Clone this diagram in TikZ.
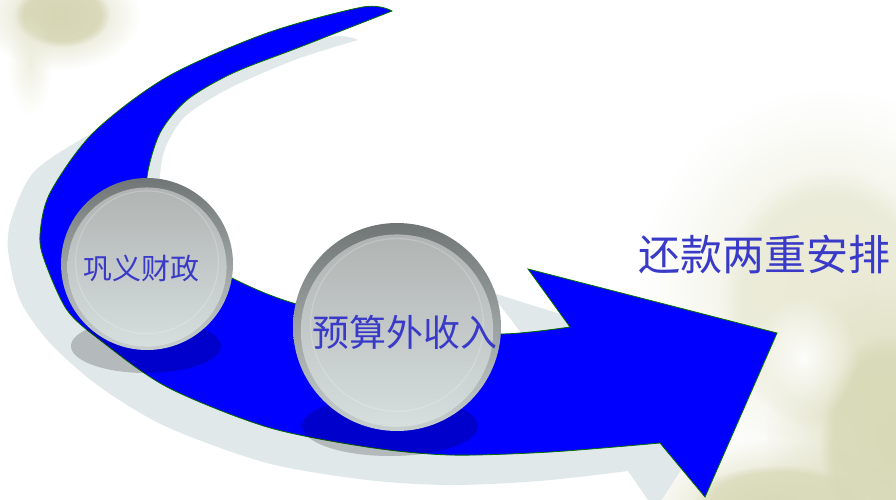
\documentclass[tikz,border=0pt]{standalone}
\usepackage{fontspec}
\newfontfamily\cjk{Noto Sans CJK SC}
\usetikzlibrary{fadings}
\definecolor{arrowblue}{RGB}{0,0,255}
\definecolor{arrowline}{RGB}{0,110,0}
\definecolor{shadowgrey}{RGB}{225,232,234}
\definecolor{txtblue}{RGB}{58,58,200}
\definecolor{beigeA}{RGB}{214,214,180}
\definecolor{beigeB}{RGB}{234,234,214}
\definecolor{beigeC}{RGB}{216,217,182}
\definecolor{rimtop}{RGB}{112,117,117}
\definecolor{rimbot}{RGB}{200,207,207}
\definecolor{disctop}{RGB}{176,180,179}
\definecolor{discbot}{RGB}{214,222,222}
\tikzfading[name=softblob, inner color=transparent!0, outer color=transparent!100]
\newcommand{\glassball}[3]{%
  \shade[top color=rimtop,bottom color=rimbot] (#1,#2) circle[radius=#3];
  \shade[top color=disctop,bottom color=discbot] (#1,#2+0.035*#3) circle[radius=0.925*#3];
  \draw[white,opacity=0.2,line width=1.2pt] (#1,#2-0.02*#3) circle[radius=0.83*#3];
}
\tikzset{
  blob/.style={fill=#1,path fading=softblob},
  coreblob/.style={fill=#1,path fading=circle with fuzzy edge 20 percent},
  balltext/.style={text=txtblue,inner sep=0pt},
}
\begin{document}
\begin{tikzpicture}[x=1pt,y=-1pt]
\useasboundingbox (0,0) rectangle (896,500);
\fill[white] (0,0) rectangle (896,500);
% background flowers
\fill[blob=beigeA] (60,15) ellipse (80 and 55);
\fill[coreblob=beigeA,opacity=0.8] (62,15) ellipse (48 and 32);
\fill[blob=beigeB,opacity=0.7] (30,65) ellipse (22 and 50);
\fill[blob=beigeB] (830,290) ellipse (190 and 200);
\fill[coreblob=beigeB,opacity=0.8] (830,300) ellipse (110 and 130);
\fill[blob=beigeC] (895,440) ellipse (130 and 170);
\fill[coreblob=beigeC,opacity=0.8] (885,445) ellipse (65 and 110);
\fill[blob=beigeC] (770,505) ellipse (130 and 65);
\fill[coreblob=beigeC,opacity=0.7] (780,500) ellipse (85 and 35);
\fill[blob=white,opacity=0.9] (803,358) ellipse (55 and 62);
% arrow shadow
\fill[shadowgrey]
  plot[smooth] coordinates {(358,40) (330,37) (250,62) (150,105) (80,140) (33,173) (12,217) (8,250) (20,300) (50,343) (100,387) (167,427) (267,463) (367,480) (450,485) (540,481) (628,471)}
  -- (655,510) -- (745,372) -- (490,292) -- (522,334)
  -- plot[smooth] coordinates {(522,334) (420,345) (300,322) (232,294) (178,252) (160,205) (163,155) (180,122) (202,104) (240,83) (300,58) (358,40)}
  -- cycle;
% main arrow
\filldraw[fill=arrowblue,draw=arrowline,line width=0.8pt,line join=miter]
  plot[smooth] coordinates {(392,11) (363,7) (267,33) (167,77) (93,133) (50,193) (40,235) (45,262) (67,310) (100,340) (167,387) (267,427) (367,447) (450,455) (550,452) (660,443)}
  -- (705,497) -- (777,333) -- (528,269) -- (570,327)
  -- plot[smooth] coordinates {(570,327) (500,334) (400,327) (293,303) (230,277) (180,245) (152,207) (147,177) (160,133) (187,100) (233,73) (300,47) (392,11)}
  -- cycle;
% ball shadows
\fill[black,opacity=0.2] (146,346) ellipse (75 and 27);
\fill[black,opacity=0.2] (390,426) ellipse (88 and 30);
% balls
\glassball{147}{264}{86}
\glassball{397}{327}{104}
% texts
\node[balltext,font=\cjk\fontsize{29}{29}\selectfont] (t1) at (141.5,268) {巩义财政};
\node[balltext,font=\cjk\fontsize{37}{37}\selectfont] (t2) at (405,332) {预算外收入};
\node[text=txtblue,inner sep=0pt,font=\cjk\fontsize{42}{42}\selectfont] (t3) at (764,255) {还款两重安排};
\end{tikzpicture}
\end{document}
